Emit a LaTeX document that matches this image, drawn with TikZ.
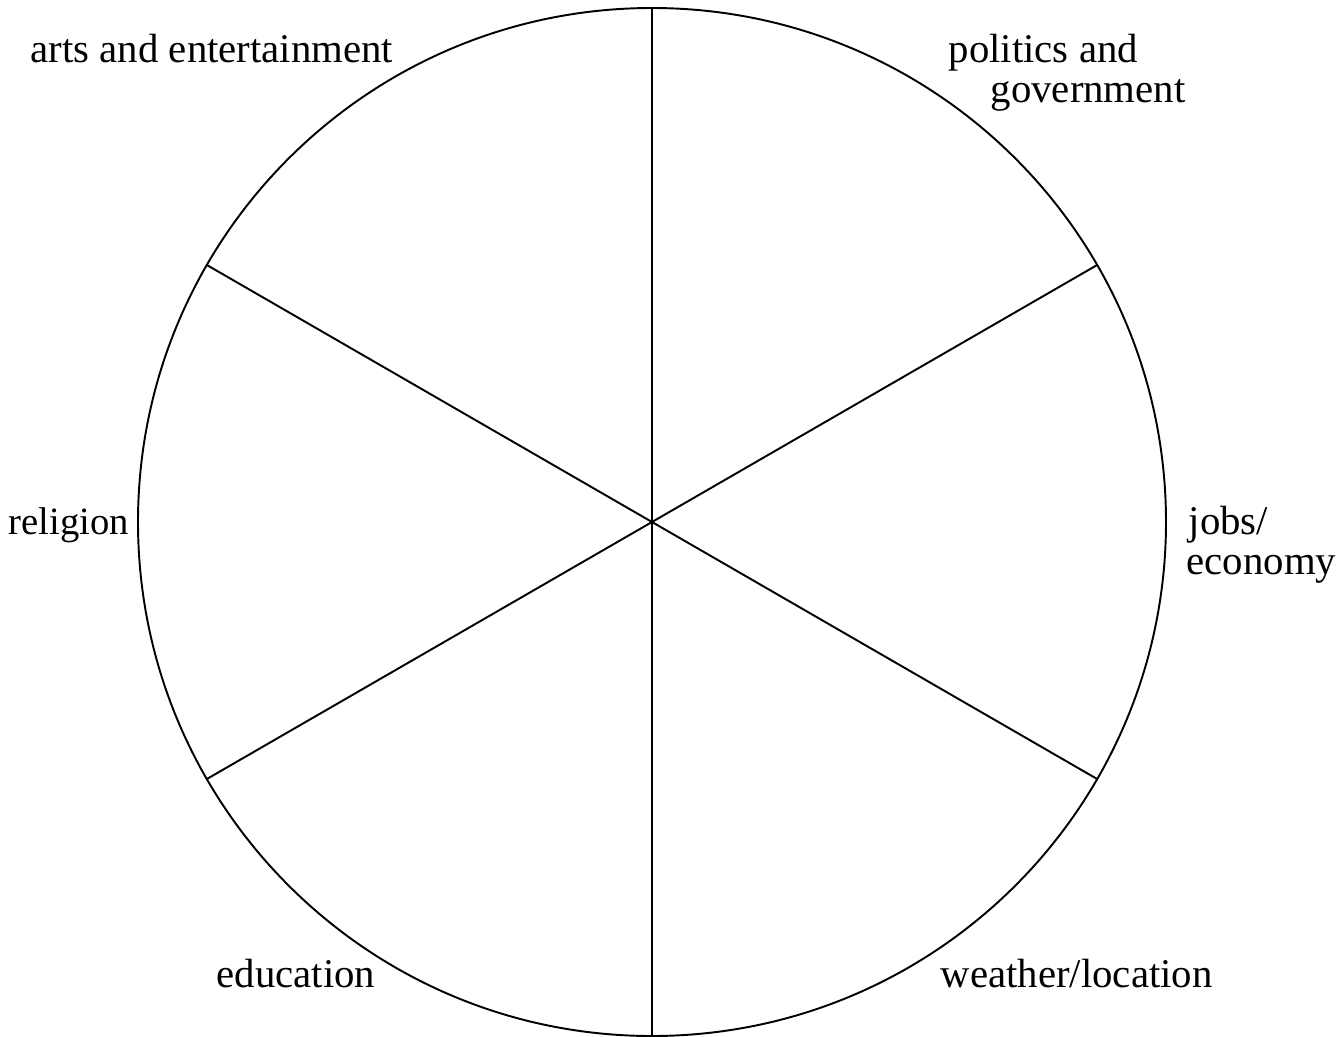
\documentclass[tikz,border=0pt]{standalone}
\usepackage{fontspec}
\setmainfont{Liberation Serif}
\begin{document}
\begin{tikzpicture}[x=0.01cm,y=-0.01cm,
  lbl/.style={font=\fontsize{11.6pt}{14pt}\selectfont, inner sep=0pt},
  spoke/.style={line width=0.55pt}]
\useasboundingbox (0,0) rectangle (1342,1036);
\coordinate (c) at (652,522);
\draw[line width=0.55pt] (c) circle (514);
\foreach \a in {90,30,-30,-90,-150,150}{
  \draw[spoke] (c) -- ++(\a:514);
}
\node[lbl,anchor=base west] (arts) at (30,62) {arts and entertainment};
\node[lbl,anchor=base west] (pol) at (948,62) {politics and};
\node[lbl,anchor=base west] (gov) at (990,102) {government};
\node[lbl,anchor=base west] (jobs) at (1188,534) {jobs/};
\node[lbl,anchor=base west] (eco) at (1186,574) {economy};
\node[lbl,anchor=base west,font=\fontsize{11pt}{14pt}\selectfont] (rel) at (8,534) {religion};
\node[lbl,anchor=base west] (edu) at (216,987) {education};
\node[lbl,anchor=base west] (wea) at (940,987) {weather/location};
\end{tikzpicture}
\end{document}
